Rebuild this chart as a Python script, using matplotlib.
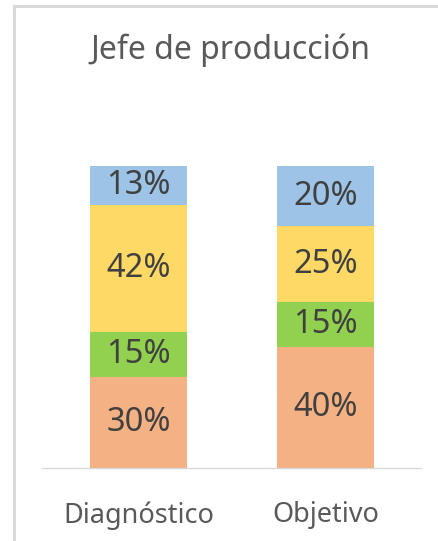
import matplotlib
matplotlib.use('Agg')
import matplotlib.pyplot as plt
from matplotlib.lines import Line2D

# data
categories = ['Diagnóstico', 'Objetivo']
series_names = ['S1', 'S2', 'S3', 'S4']
values = {
    'S1': [30, 40],
    'S2': [15, 15],
    'S3': [42, 25],
    'S4': [13, 20],
}
colors = ['#F4B183', '#92D050', '#FFD966', '#9DC3E6']
title = 'Jefe de producción'

plt.rcParams['font.family'] = ['Noto Sans', 'DejaVu Sans']

fig = plt.figure(figsize=(4.39, 5.41), dpi=100)
ax = fig.add_axes([42 / 439, 1 - 468 / 541, 379 / 439, (468 - 166) / 541])

x = list(range(len(categories)))
bottom = [0] * len(categories)
for name, col in zip(series_names, colors):
    vals = values[name]
    ax.bar(x, vals, width=0.52, bottom=bottom, color=col, edgecolor='none', zorder=2)
    for xi, v, b in zip(x, vals, bottom):
        ax.text(xi, b + v / 2, f'{v}%', ha='center', va='center',
                fontsize=23.5, color='#404040', zorder=3)
    bottom = [b + v for b, v in zip(bottom, vals)]

ax.set_xlim(-0.516, 1.511)
ax.set_ylim(0, 100)
ax.set_yticks([])
ax.set_xticks(x)
ax.set_xticklabels(categories, fontsize=19.5, color='#595959')
ax.tick_params(axis='x', length=0, pad=24)
for side in ['top', 'right', 'left']:
    ax.spines[side].set_visible(False)
ax.spines['bottom'].set_color('#D9D9D9')
ax.spines['bottom'].set_linewidth(1.0)

fig.text(230 / 439, 1 - 50 / 541, title, ha='center', va='center',
         fontsize=23, color='#595959')

# chart frame (top and left edges visible)
fig.add_artist(Line2D([14 / 439, 1], [1 - 6 / 541, 1 - 6 / 541], color='#D9D9D9', lw=2.2))
fig.add_artist(Line2D([14 / 439, 14 / 439], [0, 1 - 6 / 541], color='#D9D9D9', lw=2.2))

fig.savefig('out.png', dpi=100)
